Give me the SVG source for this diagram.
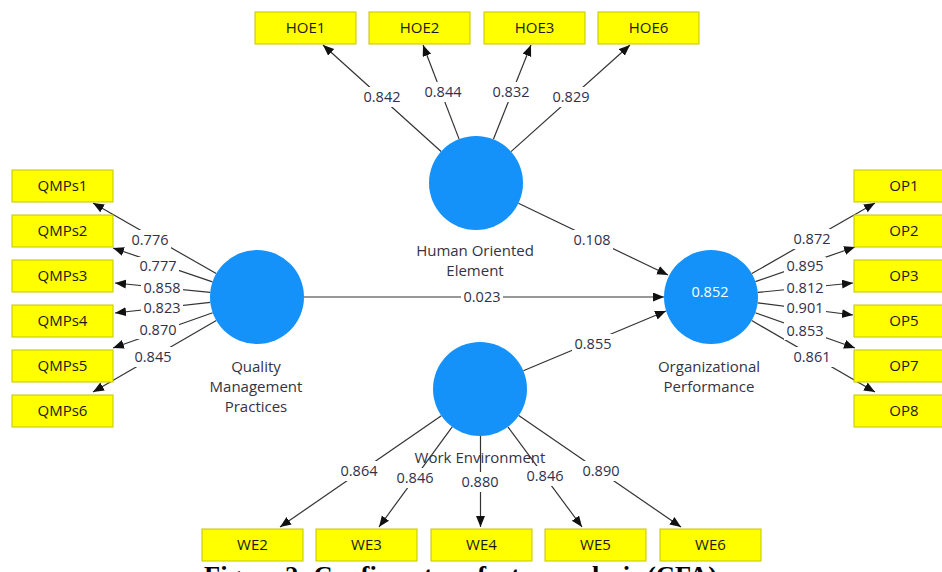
<svg xmlns="http://www.w3.org/2000/svg" width="942" height="572" viewBox="0 0 942 572">
<style>
.box{fill:#ffff00;stroke:#c4c400;stroke-width:1}
.bt{font-family:"Open Sans","Noto Sans",sans-serif;font-size:15px;fill:#1a1a1a;text-anchor:middle}
.lv{fill:#1591fa}
.nl{font-family:"Open Sans","Noto Sans",sans-serif;font-size:15px;fill:#333344;text-anchor:middle}
.e{stroke:#333;stroke-width:1.2;fill:none;marker-end:url(#ah)}
.lb{fill:#fff}
.el{font-family:"Open Sans","Noto Sans",sans-serif;font-size:14.5px;fill:#30304a;text-anchor:middle}
.cap{font-family:"Liberation Serif","Times New Roman",serif;font-size:26px;font-weight:bold;fill:#000}
</style>
<defs>
<marker id="ah" markerUnits="userSpaceOnUse" markerWidth="12" markerHeight="10" refX="11" refY="4.5" orient="auto">
<path d="M0,0 L11,4.5 L0,9 z" fill="#111"/>
</marker>
</defs>
<rect width="942" height="572" fill="#fff"/>

<g id="connectors">
<line class="e" x1="441.1" y1="151.5" x2="323" y2="45"/>
<line class="e" x1="459.1" y1="139.1" x2="423" y2="45"/>
<line class="e" x1="493.4" y1="139.3" x2="531" y2="45"/>
<line class="e" x1="511.0" y1="151.6" x2="630" y2="45"/>
<line class="e" x1="518.4" y1="203.3" x2="668" y2="275"/>
<line class="e" x1="304" y1="297" x2="664" y2="297"/>
<line class="e" x1="523.3" y1="370.8" x2="666" y2="311"/>
<line class="e" x1="216.2" y1="273.6" x2="93" y2="203"/>
<line class="e" x1="212.5" y1="281.9" x2="113" y2="248"/>
<line class="e" x1="210.2" y1="292.4" x2="115" y2="283"/>
<line class="e" x1="210.3" y1="302.3" x2="115" y2="313"/>
<line class="e" x1="212.7" y1="312.7" x2="113" y2="348"/>
<line class="e" x1="216.3" y1="320.6" x2="93" y2="392"/>
<line class="e" x1="751.8" y1="273.6" x2="875" y2="203"/>
<line class="e" x1="755.4" y1="281.6" x2="855" y2="247"/>
<line class="e" x1="757.8" y1="292.4" x2="853" y2="283"/>
<line class="e" x1="757.6" y1="302.9" x2="853" y2="315"/>
<line class="e" x1="755.3" y1="312.7" x2="855" y2="348"/>
<line class="e" x1="751.7" y1="320.6" x2="875" y2="392"/>
<line class="e" x1="441.3" y1="415.7" x2="280" y2="527"/>
<line class="e" x1="452.2" y1="426.9" x2="379" y2="527"/>
<line class="e" x1="480.5" y1="436" x2="480.5" y2="527"/>
<line class="e" x1="507.9" y1="426.8" x2="582" y2="527"/>
<line class="e" x1="518.7" y1="415.6" x2="681" y2="527"/>

<g id="edge-labels">
<rect class="lb" x="361" y="87" width="42" height="20"/><text class="el" x="382" y="102.2">0.842</text>
<rect class="lb" x="422" y="82" width="42" height="20"/><text class="el" x="443" y="97.2">0.844</text>
<rect class="lb" x="490" y="82" width="42" height="20"/><text class="el" x="511" y="97.2">0.832</text>
<rect class="lb" x="550" y="87" width="42" height="20"/><text class="el" x="571" y="102.2">0.829</text>
<rect class="lb" x="571" y="230" width="42" height="20"/><text class="el" x="592" y="245.2">0.108</text>
<rect class="lb" x="461" y="287" width="42" height="20"/><text class="el" x="482" y="302.2">0.023</text>
<rect class="lb" x="572" y="334" width="42" height="20"/><text class="el" x="593" y="349.2">0.855</text>
<rect class="lb" x="129" y="230" width="42" height="20"/><text class="el" x="150" y="245.2">0.776</text>
<rect class="lb" x="137" y="257" width="42" height="18"/><text class="el" x="158" y="271.2">0.777</text>
<rect class="lb" x="141" y="279" width="42" height="18"/><text class="el" x="162" y="293.2">0.858</text>
<rect class="lb" x="141" y="299" width="42" height="18"/><text class="el" x="162" y="313.2">0.823</text>
<rect class="lb" x="137" y="321" width="42" height="18"/><text class="el" x="158" y="335.2">0.870</text>
<rect class="lb" x="132" y="347" width="42" height="20"/><text class="el" x="153" y="362.2">0.845</text>
<rect class="lb" x="791" y="229" width="42" height="20"/><text class="el" x="812" y="244.2">0.872</text>
<rect class="lb" x="784" y="257" width="42" height="18"/><text class="el" x="805" y="271.2">0.895</text>
<rect class="lb" x="784" y="279" width="42" height="18"/><text class="el" x="805" y="293.2">0.812</text>
<rect class="lb" x="784" y="299" width="42" height="18"/><text class="el" x="805" y="313.2">0.901</text>
<rect class="lb" x="784" y="322" width="42" height="18"/><text class="el" x="805" y="336.2">0.853</text>
<rect class="lb" x="791" y="347" width="42" height="20"/><text class="el" x="812" y="362.2">0.861</text>
<rect class="lb" x="338" y="461" width="42" height="20"/><text class="el" x="359" y="476.2">0.864</text>
<rect class="lb" x="394" y="468" width="42" height="20"/><text class="el" x="415" y="483.2">0.846</text>
<rect class="lb" x="459" y="472" width="42" height="20"/><text class="el" x="480" y="487.2">0.880</text>
<rect class="lb" x="524" y="466" width="42" height="20"/><text class="el" x="545" y="481.2">0.846</text>
<rect class="lb" x="580" y="461" width="42" height="20"/><text class="el" x="601" y="476.2">0.890</text>
</g>
</g>

<g id="HOE">
<circle class="lv" cx="476" cy="183" r="47"/>
<text class="nl" x="475" y="256">Human Oriented</text>
<text class="nl" x="475" y="276">Element</text>
</g>
<g id="QMP">
<circle class="lv" cx="257" cy="297" r="47"/>
<text class="nl" x="256" y="372">Quality</text>
<text class="nl" x="256" y="392">Management</text>
<text class="nl" x="256" y="412">Practices</text>
</g>
<g id="OP">
<circle class="lv" cx="711" cy="297" r="47"/>
<text class="el" x="710" y="297" style="fill:#ffffff">0.852</text>
<text class="nl" x="709" y="372">Organizational</text>
<text class="nl" x="709" y="392">Performance</text>
</g>
<g id="WE">
<circle class="lv" cx="480" cy="389" r="47"/>
<text class="nl" x="480" y="463">Work Environment</text>
</g>

<g id="HOE1"><rect class="box" x="255" y="12" width="101" height="32"/><text class="bt" x="305.5" y="33.4">HOE1</text></g>
<g id="HOE2"><rect class="box" x="369" y="12" width="101" height="32"/><text class="bt" x="419.5" y="33.4">HOE2</text></g>
<g id="HOE3"><rect class="box" x="484" y="12" width="101" height="32"/><text class="bt" x="534.5" y="33.4">HOE3</text></g>
<g id="HOE6"><rect class="box" x="598" y="12" width="101" height="32"/><text class="bt" x="648.5" y="33.4">HOE6</text></g>

<g id="QMPs1"><rect class="box" x="12" y="170" width="101" height="32"/><text class="bt" x="62.5" y="191.4">QMPs1</text></g>
<g id="QMPs2"><rect class="box" x="12" y="215" width="101" height="32"/><text class="bt" x="62.5" y="236.4">QMPs2</text></g>
<g id="QMPs3"><rect class="box" x="12" y="260" width="101" height="32"/><text class="bt" x="62.5" y="281.4">QMPs3</text></g>
<g id="QMPs4"><rect class="box" x="12" y="305" width="101" height="32"/><text class="bt" x="62.5" y="326.4">QMPs4</text></g>
<g id="QMPs5"><rect class="box" x="12" y="350" width="101" height="32"/><text class="bt" x="62.5" y="371.4">QMPs5</text></g>
<g id="QMPs6"><rect class="box" x="12" y="395" width="101" height="32"/><text class="bt" x="62.5" y="416.4">QMPs6</text></g>

<g id="OP1"><rect class="box" x="854" y="170" width="101" height="32"/><text class="bt" x="904" y="191.4">OP1</text></g>
<g id="OP2"><rect class="box" x="854" y="215" width="101" height="32"/><text class="bt" x="904" y="236.4">OP2</text></g>
<g id="OP3"><rect class="box" x="854" y="260" width="101" height="32"/><text class="bt" x="904" y="281.4">OP3</text></g>
<g id="OP5"><rect class="box" x="854" y="305" width="101" height="32"/><text class="bt" x="904" y="326.4">OP5</text></g>
<g id="OP7"><rect class="box" x="854" y="350" width="101" height="32"/><text class="bt" x="904" y="371.4">OP7</text></g>
<g id="OP8"><rect class="box" x="854" y="395" width="101" height="32"/><text class="bt" x="904" y="416.4">OP8</text></g>

<g id="WE2"><rect class="box" x="202" y="529" width="101" height="32"/><text class="bt" x="252.5" y="550.4">WE2</text></g>
<g id="WE3"><rect class="box" x="316" y="529" width="101" height="32"/><text class="bt" x="366.5" y="550.4">WE3</text></g>
<g id="WE4"><rect class="box" x="431" y="529" width="101" height="32"/><text class="bt" x="481.5" y="550.4">WE4</text></g>
<g id="WE5"><rect class="box" x="545" y="529" width="101" height="32"/><text class="bt" x="595.5" y="550.4">WE5</text></g>
<g id="WE6"><rect class="box" x="660" y="529" width="101" height="32"/><text class="bt" x="710.5" y="550.4">WE6</text></g>

<text class="cap" x="204" y="584" textLength="513" lengthAdjust="spacingAndGlyphs">Figure 2: Confirmatory factor analysis (CFA)</text>
</svg>
